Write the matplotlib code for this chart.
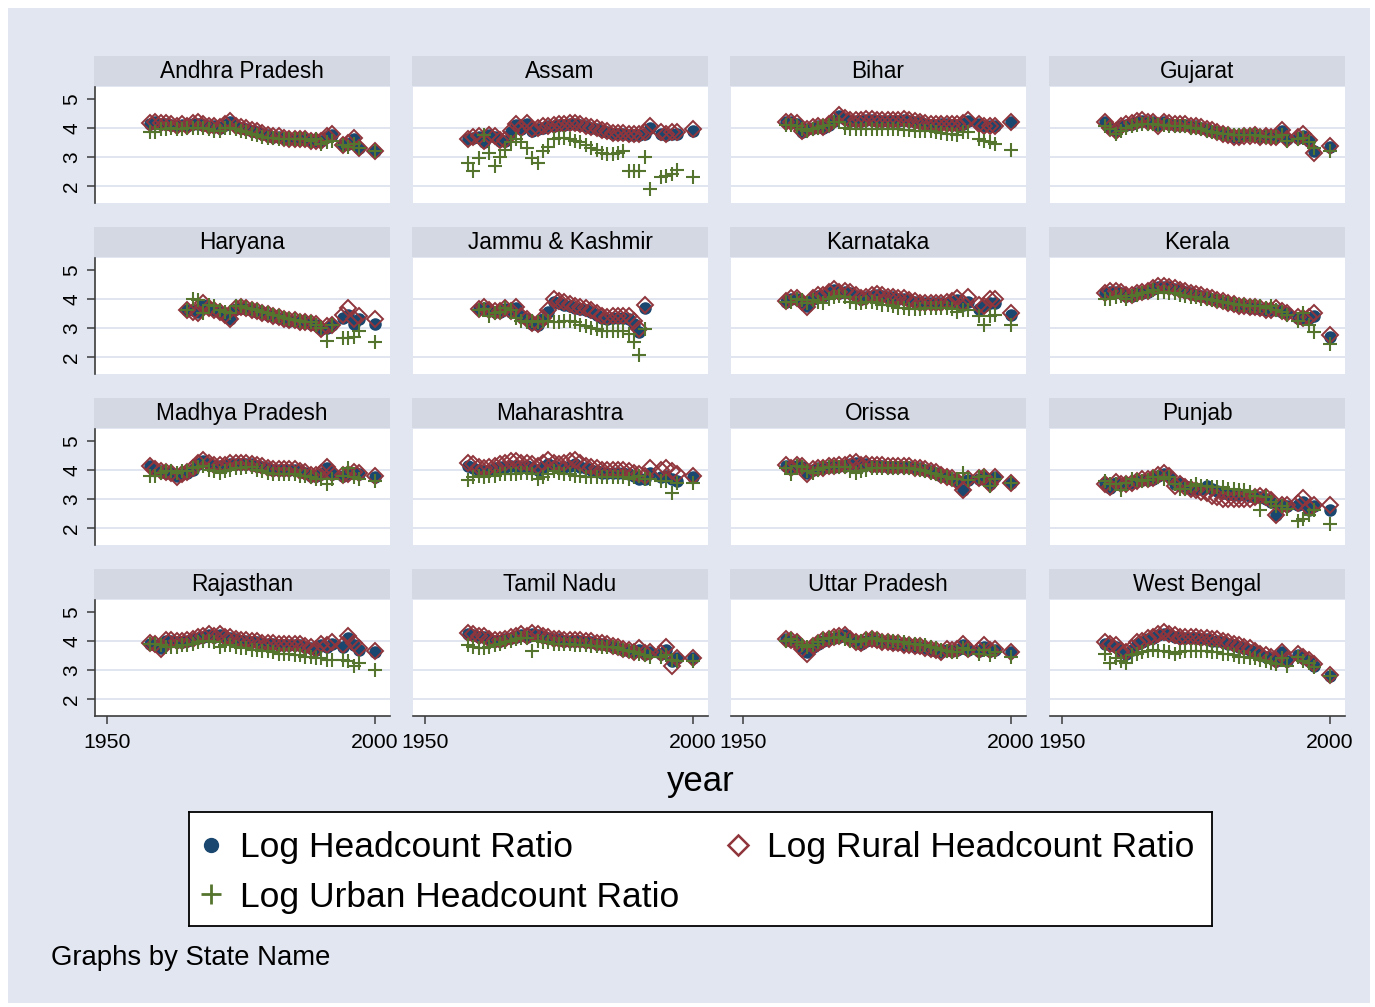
import numpy as np
import matplotlib
matplotlib.use("Agg")
import matplotlib.pyplot as plt

plt.rcParams['font.family'] = ['Liberation Sans', 'DejaVu Sans']

nan = float('nan')

YEARS = list(range(1958, 1993)) + [1994, 1995, 1996, 1997, 2000]

STATES = ["Andhra Pradesh", "Assam", "Bihar", "Gujarat",
          "Haryana", "Jammu & Kashmir", "Karnataka", "Kerala",
          "Madhya Pradesh", "Maharashtra", "Orissa", "Punjab",
          "Rajasthan", "Tamil Nadu", "Uttar Pradesh", "West Bengal"]

# ---- Log Headcount Ratio (total) ----
andhra_total = [4.15, 4.20, 4.15, 4.15, 4.10, 4.05, 4.10, 4.05, 4.15, 4.15,
                4.10, 4.05, 4.05, 4.00, 4.10, 4.20, 4.05, 4.00, 3.95, 3.90,
                3.85, 3.80, 3.75, 3.70, 3.70, 3.65, 3.60, 3.60, 3.60, 3.60,
                3.55, 3.55, 3.55, 3.70, 3.75, 3.40, 3.45, 3.60, 3.30, 3.20]
andhra_rural = [4.18, 4.22, 4.18, 4.17, 4.13, 4.08, 4.12, 4.08, 4.18, 4.20,
                4.13, 4.08, 4.07, 4.03, 4.12, 4.24, 4.08, 4.03, 3.98, 3.93,
                3.88, 3.82, 3.77, 3.72, 3.72, 3.66, 3.62, 3.61, 3.61, 3.60,
                3.56, 3.56, 3.55, 3.72, 3.80, 3.42, 3.48, 3.66, 3.32, 3.20]
andhra_urban = [3.85, 3.85, 3.95, 3.95, 4.00, 3.95, 3.95, 4.00, 4.00, 4.00,
                4.00, 3.95, 3.90, 3.90, 3.98, 4.00, 3.95, 3.90, 3.85, 3.80,
                3.75, 3.70, 3.65, 3.65, 3.60, 3.60, 3.60, 3.62, 3.60, 3.60,
                3.55, 3.62, 3.45, 3.50, 3.55, 3.40, 3.35, 3.45, 3.30, 3.20]

assam_total = [3.60, 3.65, 3.70, 3.50, 3.75, 3.70, 3.55, 3.55, 3.85, 4.10,
               3.95, 4.15, 3.90, 3.95, 4.00, 4.05, 4.05, 4.10, 4.10, 4.15,
               4.15, 4.10, 4.05, 4.00, 3.95, 3.90, 3.85, 3.80, 3.80, 3.80,
               3.75, 3.75, 3.75, 3.80, 4.00, 3.80, 3.75, 3.80, 3.80, 3.90]
assam_rural = [3.62, 3.68, 3.72, 3.55, 3.77, 3.72, 3.58, 3.58, 3.90, 4.15,
               3.98, 4.18, 3.95, 4.00, 4.05, 4.08, 4.10, 4.12, 4.15, 4.18,
               4.18, 4.12, 4.08, 4.02, 3.98, 3.92, 3.88, 3.83, 3.83, 3.82,
               3.80, 3.78, 3.78, 3.85, 4.05, 3.85, 3.80, 3.85, 3.85, 3.95]
assam_urban = [2.80, 2.50, 2.95, 3.75, 3.15, 2.70, 3.00, 3.25, 3.50, 3.60,
               3.50, 3.30, 2.95, 2.80, 3.20, 3.35, 3.60, 3.65, 3.65, 3.60,
               3.55, 3.50, 3.40, 3.30, 3.25, 3.15, 3.10, 3.10, 3.15, 3.20,
               2.50, 2.50, 2.50, 3.00, 1.90, 2.30, 2.35, 2.40, 2.55, 2.30]

bihar_total = [4.20, 4.20, 4.15, 3.85, 3.95, 4.00, 4.05, 4.00, 4.10, 4.25,
               4.40, 4.30, 4.25, 4.25, 4.25, 4.28, 4.28, 4.25, 4.25, 4.25,
               4.25, 4.25, 4.28, 4.25, 4.22, 4.20, 4.15, 4.10, 4.10, 4.12,
               4.12, 4.10, 4.10, 4.15, 4.25, 4.12, 4.05, 4.05, 4.05, 4.20]
bihar_rural = [4.22, 4.22, 4.17, 3.88, 3.97, 4.03, 4.07, 4.03, 4.13, 4.28,
               4.43, 4.33, 4.28, 4.28, 4.28, 4.30, 4.30, 4.28, 4.28, 4.28,
               4.28, 4.28, 4.30, 4.27, 4.25, 4.22, 4.18, 4.13, 4.13, 4.15,
               4.15, 4.13, 4.12, 4.18, 4.27, 4.15, 4.08, 4.08, 4.08, 4.22]
bihar_urban = [4.10, 4.10, 4.05, 3.95, 3.90, 3.95, 4.00, 4.05, 4.10, 4.20,
               4.20, 4.00, 3.95, 3.95, 3.95, 3.95, 3.95, 3.95, 3.95, 3.95,
               3.95, 3.95, 3.92, 3.92, 3.90, 3.90, 3.90, 3.88, 3.85, 3.82,
               3.80, 3.80, 3.75, 3.85, 3.85, 3.60, 3.55, 3.50, 3.45, 3.25]

gujarat_total = [4.20, 3.98, 3.88, 4.05, 4.10, 4.15, 4.20, 4.25, 4.20, 4.20,
                 4.10, 4.20, 4.15, 4.10, 4.10, 4.10, 4.05, 4.05, 4.00, 3.95,
                 3.90, 3.85, 3.80, 3.75, 3.70, 3.70, 3.75, 3.75, 3.75, 3.70,
                 3.75, 3.70, 3.70, 3.88, 3.60, 3.65, 3.72, 3.55, 3.20, 3.35]
gujarat_rural = [4.22, 4.00, 3.90, 4.08, 4.13, 4.18, 4.23, 4.27, 4.22, 4.22,
                 4.08, 4.22, 4.18, 4.13, 4.12, 4.12, 4.08, 4.07, 4.02, 3.97,
                 3.92, 3.86, 3.80, 3.74, 3.68, 3.68, 3.73, 3.73, 3.74, 3.68,
                 3.73, 3.68, 3.68, 3.92, 3.60, 3.68, 3.78, 3.58, 3.15, 3.38]
gujarat_urban = [4.05, 3.95, 3.80, 3.90, 4.00, 4.05, 4.10, 4.15, 4.15, 4.15,
                 4.10, 4.10, 4.05, 4.05, 4.05, 4.05, 4.00, 4.00, 3.95, 3.90,
                 3.85, 3.82, 3.80, 3.78, 3.75, 3.75, 3.75, 3.75, 3.75, 3.72,
                 3.70, 3.68, 3.70, 3.75, 3.55, 3.60, 3.65, 3.50, 3.30, 3.20]

haryana_total = [nan, nan, nan, nan, nan, nan, nan, 3.60, 3.60, 3.55,
                 3.80, 3.70, 3.60, 3.55, 3.45, 3.30, 3.65, 3.70, 3.65, 3.60,
                 3.55, 3.50, 3.45, 3.40, 3.35, 3.30, 3.25, 3.25, 3.20, 3.20,
                 3.15, 3.10, 2.95, 3.00, 3.10, 3.35, 3.45, 3.15, 3.30, 3.15]
haryana_rural = [nan, nan, nan, nan, nan, nan, nan, 3.60, 3.55, 3.50,
                 3.85, 3.70, 3.60, 3.55, 3.45, 3.30, 3.68, 3.72, 3.67, 3.62,
                 3.57, 3.52, 3.47, 3.42, 3.37, 3.32, 3.27, 3.27, 3.22, 3.22,
                 3.17, 3.12, 2.95, 3.05, 3.10, 3.45, 3.70, 3.30, 3.40, 3.32]
haryana_urban = [nan, nan, nan, nan, nan, nan, nan, 3.60, 4.00, 3.95,
                 3.50, 3.80, 3.75, 3.60, 3.55, 3.50, 3.75, 3.75, 3.70, 3.65,
                 3.60, 3.55, 3.50, 3.45, 3.40, 3.35, 3.30, 3.28, 3.25, 3.22,
                 3.20, 3.10, 3.00, 2.55, 3.10, 2.65, 2.65, 2.70, 2.90, 2.50]

jk_total = [nan, nan, 3.65, 3.70, 3.60, 3.55, 3.55, 3.65, 3.55, 3.70,
            3.40, 3.30, 3.15, 3.10, 3.30, 3.55, 3.90, 3.85, 3.80, 3.75,
            3.70, 3.65, 3.60, 3.55, 3.45, 3.35, 3.30, 3.35, 3.35, 3.35,
            3.30, 3.15, 2.85, 3.70, nan, nan, nan, nan, nan, nan]
jk_rural = [nan, nan, 3.65, 3.72, 3.62, 3.58, 3.57, 3.68, 3.58, 3.72,
            3.42, 3.30, 3.17, 3.12, 3.35, 3.62, 3.98, 3.93, 3.88, 3.83,
            3.77, 3.72, 3.67, 3.62, 3.52, 3.42, 3.38, 3.42, 3.42, 3.42,
            3.40, 3.25, 2.95, 3.78, nan, nan, nan, nan, nan, nan]
jk_urban = [nan, nan, 3.60, 3.65, 3.40, 3.50, 3.55, 3.70, 3.60, 3.35,
            3.25, 3.20, 3.25, 3.20, 3.25, 3.25, 3.20, 3.20, 3.25, 3.25,
            3.20, 3.10, 3.05, 3.00, 2.95, 2.90, 2.90, 2.90, 2.90, 2.90,
            2.80, 2.50, 2.05, 2.95, nan, nan, nan, nan, nan, nan]

karnataka_total = [3.90, 4.00, 4.00, 3.88, 3.75, 4.00, 4.10, 4.10, 4.22, 4.32,
                   4.20, 4.25, 4.20, 4.10, 4.00, 4.05, 4.10, 4.15, 4.10, 4.05,
                   4.05, 4.00, 4.00, 3.95, 3.90, 3.85, 3.85, 3.85, 3.85, 3.85,
                   3.85, 3.90, 3.95, 3.80, 3.90, 3.65, 3.75, 3.85, 3.85, 3.45]
karnataka_rural = [3.92, 4.02, 4.03, 3.90, 3.72, 4.03, 4.13, 4.13, 4.25, 4.35,
                   4.23, 4.28, 4.23, 4.12, 4.02, 4.08, 4.13, 4.18, 4.12, 4.08,
                   4.07, 4.02, 4.02, 3.97, 3.92, 3.87, 3.87, 3.87, 3.87, 3.87,
                   3.88, 3.93, 4.02, 3.85, 4.05, 3.80, 3.75, 4.00, 3.98, 3.52]
karnataka_urban = [3.90, 3.90, 4.00, 3.95, 3.85, 3.95, 3.90, 3.85, 4.00, 4.05,
                   4.10, 4.05, 3.90, 3.85, 3.85, 3.90, 3.90, 3.85, 3.80, 3.80,
                   3.75, 3.70, 3.70, 3.65, 3.65, 3.65, 3.70, 3.70, 3.70, 3.70,
                   3.70, 3.65, 3.55, 3.60, 3.60, 3.40, 3.10, 3.40, 3.45, 3.10]

kerala_total = [4.20, 4.25, 4.25, 4.20, 4.10, 4.10, 4.20, 4.20, 4.25, 4.35,
                4.40, 4.40, 4.40, 4.35, 4.30, 4.25, 4.20, 4.15, 4.10, 4.05,
                4.00, 3.95, 3.90, 3.85, 3.80, 3.75, 3.75, 3.70, 3.70, 3.65,
                3.60, 3.60, 3.62, 3.55, 3.50, 3.35, 3.30, 3.35, 3.40, 2.70]
kerala_rural = [4.22, 4.27, 4.28, 4.23, 4.12, 4.12, 4.22, 4.23, 4.28, 4.38,
                4.43, 4.43, 4.42, 4.37, 4.32, 4.27, 4.22, 4.17, 4.12, 4.07,
                4.02, 3.97, 3.92, 3.87, 3.82, 3.77, 3.77, 3.72, 3.72, 3.67,
                3.62, 3.62, 3.68, 3.58, 3.52, 3.38, 3.35, 3.38, 3.50, 2.75]
kerala_urban = [4.00, 4.00, 4.05, 4.10, 4.00, 4.10, 4.15, 4.20, 4.25, 4.30,
                4.20, 4.25, 4.20, 4.20, 4.15, 4.10, 4.05, 4.05, 4.00, 3.98,
                3.95, 3.92, 3.88, 3.85, 3.82, 3.80, 3.78, 3.75, 3.75, 3.75,
                3.70, 3.75, 3.60, 3.55, 3.45, 3.25, 3.50, 3.10, 2.85, 2.45]

mp_total = [4.12, 4.00, 3.95, 3.90, 3.90, 3.78, 3.85, 3.90, 4.00, 4.20,
            4.32, 4.20, 4.15, 4.15, 4.15, 4.20, 4.20, 4.20, 4.20, 4.20,
            4.15, 4.10, 4.05, 4.00, 4.00, 4.00, 4.00, 4.00, 3.95, 3.90,
            3.80, 3.80, 3.85, 4.05, 3.85, 3.80, 3.85, 3.90, 3.85, 3.75]
mp_rural = [4.15, 4.02, 3.97, 3.92, 3.90, 3.75, 3.85, 3.92, 4.05, 4.25,
            4.35, 4.23, 4.18, 4.18, 4.18, 4.23, 4.23, 4.23, 4.23, 4.22,
            4.18, 4.12, 4.07, 4.03, 4.02, 4.03, 4.03, 4.02, 3.97, 3.92,
            3.82, 3.82, 3.88, 4.10, 3.88, 3.82, 3.85, 3.92, 3.88, 3.78]
mp_urban = [3.80, 3.80, 3.90, 3.95, 3.95, 3.90, 3.95, 3.95, 4.05, 4.10,
            4.15, 4.00, 3.95, 3.90, 3.95, 4.00, 4.05, 4.05, 4.10, 4.10,
            4.00, 3.95, 3.90, 3.85, 3.85, 3.85, 3.85, 3.85, 3.80, 3.80,
            3.75, 3.70, 3.70, 3.52, 3.70, 3.80, 4.05, 3.75, 3.70, 3.60]

maha_total = [4.15, 4.05, 4.00, 3.95, 4.00, 4.05, 4.10, 4.10, 4.15, 4.15,
              4.10, 4.15, 4.05, 4.00, 4.10, 4.20, 4.15, 4.05, 4.10, 4.15,
              4.20, 4.10, 4.05, 4.00, 3.95, 3.90, 3.90, 3.90, 3.90, 3.90,
              3.85, 3.80, 3.70, 3.70, 3.90, 3.75, 3.80, 3.70, 3.60, 3.75]
maha_rural = [4.25, 4.20, 4.10, 4.05, 4.10, 4.15, 4.20, 4.25, 4.30, 4.30,
              4.25, 4.25, 4.20, 4.15, 4.25, 4.35, 4.25, 4.20, 4.25, 4.30,
              4.35, 4.25, 4.15, 4.10, 4.05, 4.00, 4.00, 4.00, 4.00, 4.00,
              3.95, 3.90, 3.85, 3.80, 4.05, 4.00, 4.05, 3.95, 3.85, 3.80]
maha_urban = [3.65, 3.75, 3.80, 3.75, 3.80, 3.80, 3.85, 3.85, 3.85, 3.85,
              3.90, 3.90, 3.85, 3.70, 3.75, 3.85, 3.95, 3.90, 3.85, 3.85,
              3.80, 3.80, 3.75, 3.75, 3.75, 3.75, 3.75, 3.75, 3.75, 3.75,
              3.70, 3.75, 3.80, 3.70, 3.70, 3.60, 3.60, 3.20, 3.55, 3.55]

orissa_total = [4.15, 4.05, 4.15, 4.10, 3.88, 4.00, 4.05, 4.05, 4.10, 4.10,
                4.15, 4.15, 4.20, 4.25, 4.15, 4.20, 4.15, 4.15, 4.15, 4.10,
                4.10, 4.10, 4.10, 4.10, 4.05, 4.05, 4.00, 3.95, 3.90, 3.80,
                3.75, 3.70, 3.60, 3.30, 3.65, 3.70, 3.75, 3.50, 3.75, 3.55]
orissa_rural = [4.17, 4.08, 4.18, 4.12, 3.87, 4.02, 4.07, 4.08, 4.12, 4.12,
                4.18, 4.18, 4.23, 4.28, 4.18, 4.22, 4.18, 4.17, 4.17, 4.12,
                4.12, 4.12, 4.12, 4.12, 4.07, 4.07, 4.02, 3.97, 3.92, 3.82,
                3.77, 3.72, 3.62, 3.30, 3.67, 3.72, 3.77, 3.52, 3.77, 3.56]
orissa_urban = [4.05, 3.85, 4.15, 4.10, 3.95, 3.90, 4.00, 4.05, 4.10, 4.10,
                4.10, 4.10, 3.95, 3.90, 3.95, 4.00, 4.05, 4.05, 4.05, 4.05,
                4.05, 4.05, 4.05, 4.05, 4.02, 4.00, 3.95, 3.90, 3.85, 3.80,
                3.75, 3.70, 3.70, 3.88, 3.65, 3.75, 3.78, 3.45, 3.70, 3.55]

punjab_total = [3.55, 3.38, 3.55, 3.50, 3.50, 3.55, 3.60, 3.65, 3.65, 3.70,
                3.80, 3.85, 3.80, 3.50, 3.55, 3.45, 3.35, 3.35, 3.35, 3.45,
                3.35, 3.28, 3.22, 3.18, 3.15, 3.15, 3.15, 3.10, 3.05, 3.05,
                3.00, 2.90, 2.45, 2.80, 2.75, 2.80, 2.90, 2.60, 2.75, 2.60]
punjab_rural = [3.52, 3.40, 3.57, 3.52, 3.50, 3.55, 3.62, 3.67, 3.70, 3.72,
                3.82, 3.88, 3.80, 3.45, 3.50, 3.40, 3.35, 3.30, 3.25, 3.20,
                3.10, 3.05, 3.00, 3.00, 3.00, 3.00, 3.00, 3.00, 3.05, 3.10,
                3.05, 2.95, 2.45, 2.78, 2.80, 2.85, 3.02, 2.70, 2.80, 2.78]
punjab_urban = [3.60, 3.50, 3.50, 3.30, 3.55, 3.70, 3.65, 3.60, 3.65, 3.75,
                3.75, 3.70, 3.75, 3.50, 3.35, 3.35, 3.45, 3.50, 3.45, 3.45,
                3.40, 3.40, 3.40, 3.35, 3.35, 3.30, 3.30, 3.25, 3.10, 2.60,
                3.05, 2.90, 2.75, 2.75, 2.65, 2.25, 2.30, 2.45, 2.60, 2.15]

raj_total = [3.90, 3.85, 3.75, 4.00, 4.00, 3.95, 3.95, 4.00, 4.05, 4.10,
             4.15, 4.20, 4.15, 4.20, 4.10, 4.10, 4.05, 4.00, 4.00, 3.95,
             3.95, 3.90, 3.90, 3.90, 3.85, 3.85, 3.85, 3.85, 3.85, 3.80,
             3.75, 3.70, 3.85, 3.80, 3.90, 3.80, 4.10, 3.85, 3.70, 3.60]
raj_rural = [3.92, 3.88, 3.72, 4.03, 4.03, 3.98, 3.98, 4.03, 4.08, 4.13,
             4.18, 4.23, 4.18, 4.23, 4.13, 4.13, 4.08, 4.03, 4.03, 3.98,
             3.98, 3.93, 3.93, 3.93, 3.88, 3.88, 3.88, 3.88, 3.88, 3.83,
             3.78, 3.73, 3.88, 3.85, 3.95, 3.85, 4.18, 3.92, 3.75, 3.65]
raj_urban = [3.90, 3.90, 3.85, 3.80, 3.80, 3.80, 3.85, 3.85, 3.90, 3.95,
             4.00, 4.00, 3.95, 3.80, 3.85, 3.85, 3.80, 3.75, 3.75, 3.70,
             3.70, 3.65, 3.65, 3.60, 3.55, 3.55, 3.55, 3.50, 3.50, 3.45,
             3.45, 3.40, 3.40, 3.35, 3.35, 3.35, 3.30, 3.15, 3.25, 3.00]

tn_total = [4.25, 4.20, 4.15, 4.15, 4.05, 4.00, 4.00, 4.05, 4.10, 4.15,
            4.20, 4.15, 4.25, 4.20, 4.15, 4.10, 4.05, 4.05, 4.00, 4.00,
            4.00, 4.00, 3.95, 3.95, 3.90, 3.90, 3.85, 3.80, 3.75, 3.70,
            3.65, 3.60, 3.70, 3.55, 3.60, 3.55, 3.70, 3.30, 3.40, 3.40]
tn_rural = [4.28, 4.23, 4.18, 4.18, 4.08, 4.03, 4.03, 4.08, 4.13, 4.18,
            4.23, 4.18, 4.28, 4.23, 4.18, 4.13, 4.08, 4.08, 4.03, 4.03,
            4.03, 4.03, 3.98, 3.98, 3.93, 3.93, 3.88, 3.83, 3.78, 3.73,
            3.68, 3.63, 3.75, 3.58, 3.62, 3.58, 3.80, 3.15, 3.42, 3.42]
tn_urban = [3.85, 3.80, 3.75, 3.75, 3.80, 3.85, 3.90, 3.95, 4.00, 4.05,
            4.10, 4.10, 3.65, 4.00, 3.95, 3.95, 3.90, 3.90, 3.90, 3.90,
            3.85, 3.85, 3.85, 3.82, 3.82, 3.80, 3.80, 3.80, 3.75, 3.70,
            3.65, 3.60, 3.55, 3.50, 3.45, 3.45, 3.50, 3.35, 3.30, 3.30]

up_total = [4.05, 4.00, 3.95, 3.75, 3.60, 3.80, 3.90, 4.00, 4.05, 4.10,
            4.15, 4.20, 4.05, 3.95, 3.90, 4.00, 4.05, 4.00, 3.95, 3.95,
            3.90, 3.90, 3.85, 3.85, 3.80, 3.80, 3.75, 3.70, 3.65, 3.60,
            3.70, 3.65, 3.70, 3.85, 3.70, 3.65, 3.80, 3.65, 3.70, 3.60]
up_rural = [4.07, 4.02, 3.97, 3.72, 3.55, 3.82, 3.92, 4.02, 4.07, 4.12,
            4.17, 4.22, 4.08, 3.97, 3.92, 4.02, 4.07, 4.02, 3.97, 3.97,
            3.92, 3.92, 3.87, 3.87, 3.82, 3.82, 3.77, 3.72, 3.67, 3.62,
            3.72, 3.67, 3.72, 3.88, 3.72, 3.67, 3.85, 3.67, 3.72, 3.62]
up_urban = [4.00, 4.05, 3.95, 3.85, 3.80, 3.85, 3.95, 4.05, 4.10, 4.10,
            4.15, 4.05, 4.00, 3.95, 4.00, 4.05, 4.10, 4.05, 4.00, 4.00,
            4.00, 3.95, 3.95, 3.90, 3.90, 3.85, 3.85, 3.80, 3.75, 3.70,
            3.65, 3.60, 3.60, 3.75, 3.70, 3.55, 3.70, 3.50, 3.60, 3.45]

wb_total = [3.90, 3.85, 3.80, 3.60, 3.55, 3.70, 3.90, 3.95, 4.05, 4.10,
            4.20, 4.25, 4.20, 4.15, 4.10, 4.10, 4.10, 4.10, 4.05, 4.05,
            4.00, 4.00, 3.95, 3.90, 3.85, 3.80, 3.75, 3.70, 3.60, 3.50,
            3.45, 3.40, 3.30, 3.60, 3.30, 3.50, 3.40, 3.30, 3.15, 2.80]
wb_rural = [3.95, 3.90, 3.85, 3.65, 3.60, 3.75, 3.95, 4.00, 4.10, 4.15,
            4.25, 4.30, 4.25, 4.20, 4.15, 4.15, 4.15, 4.15, 4.10, 4.10,
            4.05, 4.05, 4.00, 3.95, 3.90, 3.85, 3.80, 3.75, 3.65, 3.55,
            3.50, 3.45, 3.35, 3.62, 3.35, 3.55, 3.45, 3.35, 3.20, 2.82]
wb_urban = [3.55, 3.25, 3.40, 3.30, 3.25, 3.50, 3.55, 3.60, 3.65, 3.70,
            3.65, 3.65, 3.60, 3.55, 3.60, 3.65, 3.65, 3.65, 3.65, 3.65,
            3.60, 3.60, 3.55, 3.55, 3.50, 3.45, 3.45, 3.40, 3.40, 3.35,
            3.30, 3.25, 3.20, 3.40, 3.15, 3.45, 3.30, 3.25, 3.10, 2.80]

TOTAL = [andhra_total, assam_total, bihar_total, gujarat_total,
         haryana_total, jk_total, karnataka_total, kerala_total,
         mp_total, maha_total, orissa_total, punjab_total,
         raj_total, tn_total, up_total, wb_total]
RURAL = [andhra_rural, assam_rural, bihar_rural, gujarat_rural,
         haryana_rural, jk_rural, karnataka_rural, kerala_rural,
         mp_rural, maha_rural, orissa_rural, punjab_rural,
         raj_rural, tn_rural, up_rural, wb_rural]
URBAN = [andhra_urban, assam_urban, bihar_urban, gujarat_urban,
         haryana_urban, jk_urban, karnataka_urban, kerala_urban,
         mp_urban, maha_urban, orissa_urban, punjab_urban,
         raj_urban, tn_urban, up_urban, wb_urban]

LEGEND_LABELS = ["Log Headcount Ratio", "Log Rural Headcount Ratio",
                 "Log Urban Headcount Ratio"]
X_TICKS = [1950, 2000]
Y_TICKS = [2, 3, 4, 5]

# ---------------- styling ----------------
W, H = 1375, 1007
NAVY = '#1a476f'
MAROON = '#90353b'
GREEN = '#55752f'
BG = '#e2e6f0'
STRIP = '#d4d8e3'
GRID = '#dde3ee'
AXC = '#3c3c3c'

fig = plt.figure(figsize=(W / 100, H / 100), dpi=100)
fig.patch.set_facecolor('white')

def rect(x0, y0, w, h):
    return [x0 / W, 1 - (y0 + h) / H, w / W, h / H]

# inner graph region background
bgax = fig.add_axes(rect(8, 8, 1362, 995))
bgax.set_facecolor(BG)
bgax.set_xticks([]); bgax.set_yticks([])
for s in bgax.spines.values():
    s.set_visible(False)
bgax.set_zorder(-10)

col_x = [95, 413, 731, 1050]
row_y = [87, 258, 429, 600]
PW, PH = 295, 116

for k, state in enumerate(STATES):
    r, c = divmod(k, 4)
    x0, y0 = col_x[c], row_y[r]
    # strip
    sax = fig.add_axes(rect(x0 - 1, y0 - 31, PW + 1, 30))
    sax.set_facecolor(STRIP)
    sax.set_xticks([]); sax.set_yticks([])
    for s in sax.spines.values():
        s.set_visible(False)
    sax.text(0.5, 0.47, state, ha='center', va='center', fontsize=16.3,
             color='black', transform=sax.transAxes)

    ax = fig.add_axes(rect(x0, y0, PW, PH))
    ax.set_facecolor('white')
    ax.set_xlim(1947.76, 2002.8)
    ax.set_ylim(1.41, 5.41)
    for g in [2, 3, 4]:
        ax.axhline(g, color=GRID, lw=1.3, zorder=0)
    ax.plot(YEARS, TOTAL[k], 'o', ms=8.0, color=NAVY, mec=NAVY, zorder=2)
    ax.plot(YEARS, RURAL[k], 'D', ms=7.8, mfc='none', mec=MAROON, mew=1.4, zorder=3)
    ax.plot(YEARS, URBAN[k], '+', ms=10.5, color=GREEN, mew=1.5, zorder=4)

    for s in ax.spines.values():
        s.set_visible(False)
    if c == 0:
        ax.spines['left'].set_visible(True)
        ax.spines['left'].set_color(AXC)
        ax.spines['left'].set_linewidth(1.2)
        ax.set_yticks(Y_TICKS)
        ax.set_yticklabels([str(t) for t in Y_TICKS], rotation=90, va='center',
                           fontsize=15)
        ax.tick_params(axis='y', length=6, width=1.1, color=AXC, pad=4)
    else:
        ax.set_yticks([])
    if r == 3:
        ax.spines['bottom'].set_visible(True)
        ax.spines['bottom'].set_color(AXC)
        ax.spines['bottom'].set_linewidth(1.2)
        ax.set_xticks(X_TICKS)
        ax.set_xticklabels([str(t) for t in X_TICKS], fontsize=15.3)
        ax.tick_params(axis='x', length=6, width=1.1, color=AXC, pad=6)
    else:
        ax.set_xticks([])

fig.text(701 / W, 1 - 781 / H, "year", ha='center', va='center', fontsize=25)

# legend box
lax = fig.add_axes(rect(189, 812, 1023, 114))
lax.set_facecolor('white')
lax.set_xlim(0, 1023); lax.set_ylim(114, 0)
lax.set_xticks([]); lax.set_yticks([])
for s in lax.spines.values():
    s.set_color('black'); s.set_linewidth(1.3)
lax.plot([22], [33], 'o', ms=10, color=NAVY)
lax.text(51, 35, LEGEND_LABELS[0], va='center', ha='left', fontsize=25.5)
lax.plot([549], [33], 'D', ms=10, mfc='none', mec=MAROON, mew=1.8)
lax.text(578, 35, LEGEND_LABELS[1], va='center', ha='left', fontsize=25.5)
lax.plot([22], [82], '+', ms=14, color=GREEN, mew=2)
lax.text(51, 85, LEGEND_LABELS[2], va='center', ha='left', fontsize=25.5)

fig.text(51 / W, 1 - 958 / H, "Graphs by State Name", ha='left', va='center',
         fontsize=19.8)

fig.savefig('out.png', dpi=100, facecolor=fig.get_facecolor())
